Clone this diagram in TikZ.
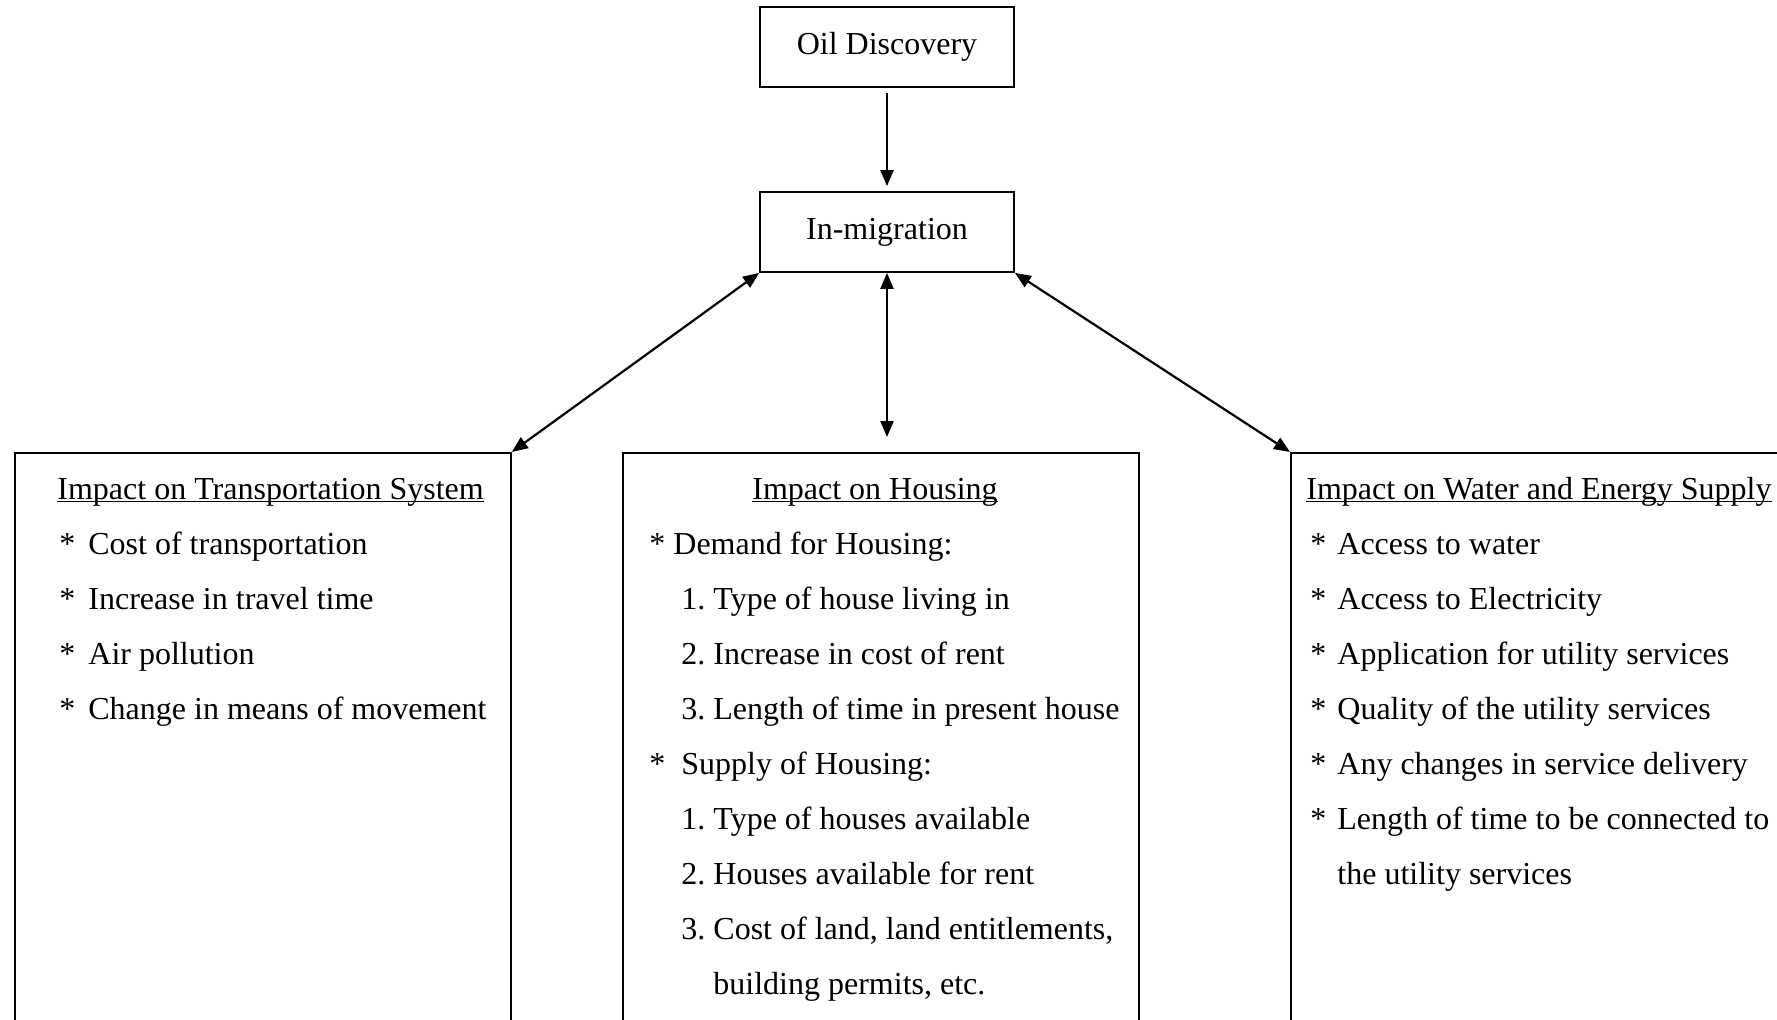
\documentclass[tikz,border=0pt]{standalone}
\usepackage{fontspec}
\setmainfont{Liberation Serif}
\usetikzlibrary{arrows.meta,positioning}
\newcommand{\ulhead}[1]{\setbox0\hbox{#1}\rlap{\rule[-1.7pt]{\wd0}{0.6pt}}\box0}

\begin{document}
\begin{tikzpicture}[x=0.5pt, y=-0.5pt,
  box/.style={draw, line width=0.9pt, inner sep=0pt, font=\fontsize{16}{19}\selectfont},
  txt/.style={anchor=base west, inner sep=0pt, font=\fontsize{16}{19}\selectfont\frenchspacing},
  arr/.style={-{Triangle[length=8pt,width=6.5pt]}, line width=1.1pt},
  darr/.style={{Triangle[length=8pt,width=6.5pt]}-{Triangle[length=8pt,width=6.5pt]}, line width=1.1pt},]
        \useasboundingbox (0,0) rectangle (1777,1019);
        \clip (0,0) rectangle (1777,1019);
        % top chain
        \node[box, minimum width=127pt, minimum height=40pt] (oil) at (887,47) {Oil Discovery};
        \node[box, minimum width=127pt, minimum height=40pt] (mig) at (887,232) {In-migration};
        % the three impact boxes (cut by the page)
        \node[box, anchor=north west, minimum width=248pt, minimum height=300pt] (trans) at (14,452) {};
        \node[box, anchor=north west, minimum width=258pt, minimum height=300pt] (house) at (622,452) {};
        \node[box, anchor=north west, minimum width=260pt, minimum height=300pt] (water) at (1290,452) {};
        \draw[arr, shorten <=2.5pt, shorten >=2.5pt] (oil) -- (mig);
        \draw[darr] (mig.south west) -- (trans.north east);
        \draw[darr, shorten >=7.5pt] (mig.south) -- (mig.south |- house.north);
        \draw[darr] (mig.south east) -- (water.north west);
        % transportation
        \node[txt] (th) at (57,499) {\ulhead{Impact on Transportation System}};
        \foreach \t [count=\i] in {Cost of transportation, Increase in travel time, Air pollution, Change in means of movement} {
          \node[txt] (ts\i) at (59,{499+55*\i}) {*};
          \node[txt] (tt\i) at (88,{499+55*\i}) {\t};
        }
        % housing
        \node[txt, anchor=base] (hh) at (875,499) {\ulhead{Impact on Housing}};
        \node[txt] (hs1) at (649,554) {*};
        \node[txt] (ht1) at (673,554) {Demand for Housing:};
        \node[txt] (ht2) at (681,609) {1. Type of house living in};
        \node[txt] (ht3) at (681,664) {2. Increase in cost of rent};
        \node[txt] (ht4) at (681,719) {3. Length of time in present house};
        \node[txt] (hs5) at (649,774) {*};
        \node[txt] (ht5) at (681,774) {Supply of Housing:};
        \node[txt] (ht6) at (681,829) {1. Type of houses available};
        \node[txt] (ht7) at (681,884) {2. Houses available for rent};
        \node[txt] (ht8) at (681,939) {3. Cost of land, land entitlements,};
        \node[txt] (ht9) at (713,994) {building permits, etc.};
        % water and energy
        \node[txt] (wh) at (1306,499) {\ulhead{Impact on Water and Energy Supply}};
        \foreach \t [count=\i] in {Access to water, Access to Electricity, Application for utility services, Quality of the utility services, Any changes in service delivery, Length of time to be connected to} {
          \node[txt] (ws\i) at (1310,{499+55*\i}) {*};
          \node[txt] (wt\i) at (1337,{499+55*\i}) {\t};
        }
        \node[txt] (wt7) at (1337,884) {the utility services};
      \end{tikzpicture}
\end{document}
